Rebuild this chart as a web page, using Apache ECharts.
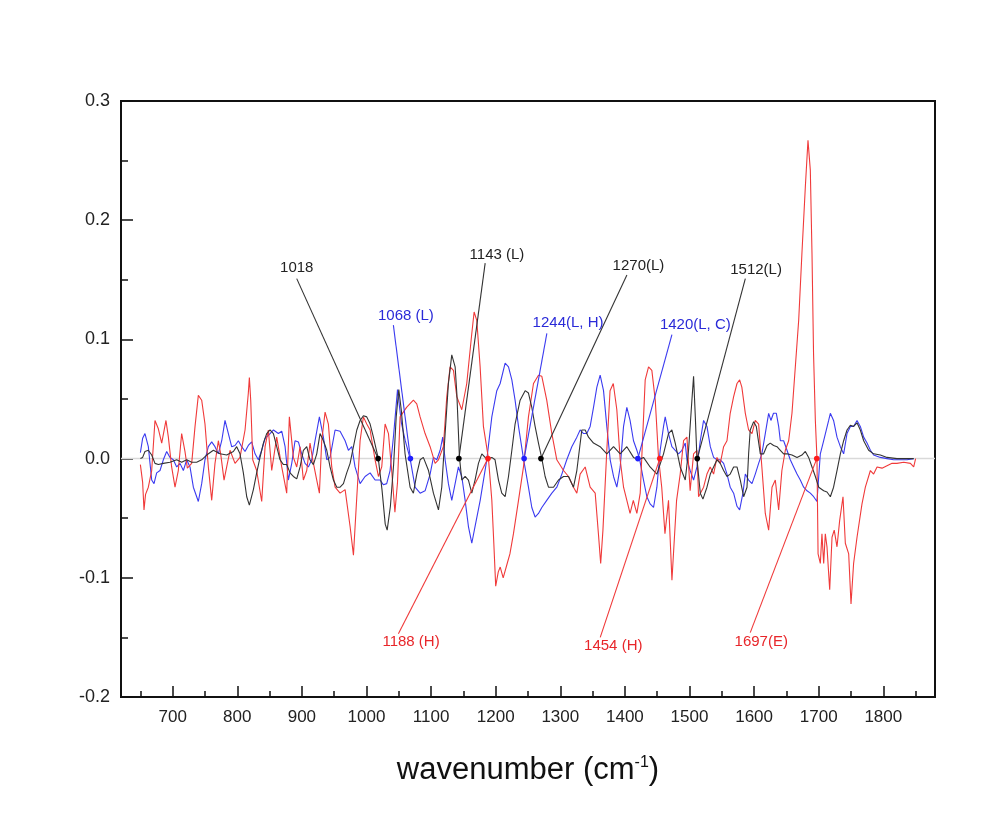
<!DOCTYPE html>
<html>
<head>
<meta charset="utf-8">
<script src="https://cdn.jsdelivr.net/npm/echarts@6/dist/echarts.min.js"></script>
<style>
html,body{margin:0;padding:0;background:#fff;}
#chart{width:992px;height:827px;}
</style>
</head>
<body>
<div id="chart"></div>
<script>
// wavenumber (cm-1), value pairs
const redSeries = [[650,-0.005],[653.5,-0.02],[655.6,-0.043],[658,-0.03],[662.3,-0.024],[667.5,-0.01],[672.6,0.032],[677.8,0.025],[683,0.013],[685.5,0.014],[689.6,0.032],[693.3,0.018],[698.4,-0.007],[703.6,-0.024],[708.7,-0.01],[713.9,0.021],[719,0.006],[722.7,-0.008],[729.4,-0.004],[734.6,0.027],[739.7,0.053],[744.9,0.049],[750,0.029],[755.2,-0.007],[760.4,-0.035],[765.5,-0.004],[770.7,0.015],[774.3,0.004],[779.5,-0.018],[783.6,-0.007],[788.8,0.007],[796.5,-0.004],[804.2,0.001],[812,0.024],[817.1,0.055],[818.7,0.068],[820.8,0.049],[823.9,-0.001],[830,-0.01],[837.8,-0.036],[843,0.01],[848.1,0.024],[853.3,-0.01],[861,0.018],[868.8,-0.007],[876.5,-0.029],[880.6,0.035],[886.8,0.001],[892,-0.007],[897.2,0.01],[902.3,-0.018],[907.5,-0.01],[912.6,0.013],[916.8,-0.001],[923,-0.018],[927.1,-0.029],[930.7,0.015],[935.9,0.039],[941,0.029],[946.2,-0.007],[951.4,-0.024],[959.1,-0.029],[966.9,-0.026],[974.6,-0.057],[979.8,-0.081],[985,-0.032],[990.1,0.015],[995.2,0.035],[1000.4,0.029],[1005.6,0.024],[1013.3,-0.001],[1018.5,-0.015],[1023.6,-0.007],[1028.8,0.029],[1034,0.021],[1039,-0.01],[1044,-0.045],[1048,-0.02],[1052,0.035],[1062,0.043],[1072.6,0.049],[1077.8,0.046],[1083,0.035],[1090.7,0.021],[1098.5,0.01],[1106.2,-0.004],[1111.4,-0.001],[1119,0.01],[1124.3,0.052],[1129.4,0.077],[1134.6,0.074],[1139.8,0.052],[1147.5,0.041],[1155.2,0.063],[1163,0.105],[1166.6,0.123],[1170.7,0.116],[1175.9,0.077],[1181,0.027],[1188.8,0],[1194,-0.035],[1197,-0.07],[1200,-0.107],[1204,-0.095],[1207,-0.091],[1211.6,-0.1],[1217.8,-0.088],[1222,-0.08],[1227.5,-0.063],[1235.3,-0.035],[1243,-0.007],[1250.7,0.035],[1258.5,0.063],[1266.2,0.07],[1271.4,0.069],[1279,0.049],[1286.9,0.021],[1294.6,-0.001],[1305,-0.01],[1312.7,-0.015],[1320.4,-0.024],[1325.6,-0.029],[1330.7,-0.013],[1338.5,-0.007],[1346.2,-0.024],[1354,-0.029],[1359,-0.063],[1362.5,-0.088],[1366,-0.06],[1372,0.007],[1377,0.057],[1382,0.063],[1387.5,0.041],[1392.7,-0.001],[1397.9,-0.024],[1403,-0.035],[1408,-0.046],[1413,-0.035],[1418.5,-0.046],[1423.7,-0.029],[1431.4,0.066],[1436.6,0.077],[1441.7,0.074],[1447,0.049],[1452,0.001],[1457,-0.024],[1462,-0.063],[1467.5,-0.035],[1472.8,-0.102],[1480,-0.035],[1485.6,-0.013],[1490.8,0.015],[1496,0.018],[1501,-0.027],[1506.3,0.004],[1511.5,0.007],[1514,-0.032],[1521.8,-0.024],[1527,-0.013],[1532,-0.007],[1537.3,-0.013],[1542.5,0.001],[1547.6,-0.004],[1552.8,0.01],[1558,0.015],[1563,0.038],[1568.3,0.052],[1573.5,0.063],[1577.6,0.066],[1581,0.06],[1586.4,0.038],[1591.5,0.024],[1596.7,0.021],[1601.8,0.032],[1607,0.029],[1612,-0.007],[1617.3,-0.046],[1622.5,-0.06],[1627.7,-0.024],[1632.8,-0.018],[1638,-0.043],[1643,-0.01],[1648.3,0.007],[1653.5,0.015],[1658.6,0.038],[1663.8,0.077],[1669,0.116],[1674,0.172],[1679.3,0.228],[1683.4,0.267],[1687,0.242],[1689.6,0.172],[1692,0.088],[1694.8,0.032],[1697.3,0],[1699,-0.08],[1702.5,-0.088],[1705,-0.063],[1707.7,-0.088],[1710.2,-0.063],[1712.8,-0.074],[1717,-0.11],[1720.6,-0.066],[1724,-0.06],[1728.3,-0.074],[1732.4,-0.052],[1737.6,-0.032],[1741.2,-0.071],[1746.4,-0.08],[1750,-0.122],[1754,-0.088],[1759.3,-0.066],[1767,-0.038],[1772.2,-0.024],[1780,-0.01],[1785,-0.013],[1790.3,-0.007],[1798,-0.008],[1805.7,-0.006],[1813.5,-0.004],[1821,-0.004],[1831.6,-0.003],[1842,-0.004],[1847,-0.007],[1850,0]];

const blueSeries = [[650,0.005],[653.5,0.017],[657.1,0.021],[662.3,0.01],[667.5,-0.018],[671.1,-0.021],[675.2,-0.012],[680.4,-0.01],[685.5,-0.001],[690.7,0.006],[695.8,0.001],[701,-0.001],[706.2,-0.007],[711.3,-0.004],[716.5,-0.01],[721.7,-0.001],[726.8,-0.007],[732,-0.024],[739.7,-0.036],[744.9,-0.021],[750,-0.001],[755.2,0.01],[760.4,0.014],[765.5,0.01],[770.7,0.004],[775.9,0.015],[781,0.032],[786.2,0.021],[791.3,0.01],[796.5,0.011],[801.7,0.015],[806.8,0.01],[812,0.006],[817.1,0.011],[822.3,0.014],[827.5,0.004],[832.6,-0.001],[837.8,0.007],[843,0.017],[849,0.02],[856,0.024],[863.6,0.021],[868.8,0.023],[874,0.01],[879.1,-0.018],[884.3,-0.004],[889.4,0.015],[894.6,0.014],[899.7,0.004],[904.9,-0.004],[910,-0.007],[915.2,-0.001],[920.4,0.015],[927.1,0.035],[933.3,0.018],[938.5,-0.001],[943.6,0.001],[951.4,0.024],[959.1,0.023],[966.9,0.015],[972,0.007],[977.2,0.01],[982.3,-0.007],[990.1,-0.021],[997.8,-0.015],[1005.6,-0.012],[1013.3,-0.018],[1021,-0.018],[1026.2,-0.022],[1031.3,-0.021],[1036.5,-0.01],[1042,0.02],[1048,0.058],[1054,0.03],[1060,0.015],[1067.5,0],[1075.2,-0.024],[1083,-0.029],[1090.7,-0.027],[1098.5,-0.013],[1103.6,0.001],[1108.8,-0.001],[1114,0.007],[1118,0.018],[1121.7,-0.001],[1126.8,-0.021],[1132,-0.035],[1137.2,-0.021],[1142.3,-0.007],[1147.5,-0.015],[1152.7,-0.035],[1157.8,-0.057],[1163,-0.071],[1168,-0.057],[1176,-0.035],[1186.2,-0.001],[1194,0.035],[1201.7,0.057],[1206.9,0.063],[1214.6,0.08],[1219.8,0.077],[1225,0.066],[1230,0.049],[1235.3,0.027],[1243,0],[1250.7,-0.024],[1255.9,-0.041],[1261,-0.049],[1266.2,-0.046],[1271.4,-0.041],[1279,-0.035],[1286.9,-0.029],[1294.6,-0.024],[1302.4,-0.013],[1310,-0.001],[1317.8,0.01],[1325.6,0.018],[1330.7,0.024],[1336,0.021],[1341,0.021],[1346.2,0.027],[1351.4,0.043],[1356.6,0.06],[1361.7,0.07],[1366.9,0.057],[1372,0.027],[1377.2,-0.001],[1382.4,-0.015],[1387.5,-0.024],[1392.7,-0.007],[1397.9,0.027],[1403,0.043],[1408,0.032],[1413.3,0.015],[1418.5,0.007],[1422.6,0],[1428.8,-0.018],[1434,-0.032],[1439,-0.038],[1444.3,-0.041],[1449.5,-0.024],[1454.6,0.007],[1459.8,0.027],[1462.4,0.035],[1467.5,0.021],[1472.7,0.01],[1477.9,0.007],[1483,0.004],[1488.2,0.007],[1493.4,0.013],[1496,-0.001],[1501,-0.01],[1506.3,-0.018],[1511.5,-0.007],[1516.7,0.015],[1521.8,0.032],[1527,0.027],[1532.2,0.01],[1537.3,0.001],[1542.5,-0.001],[1547.6,-0.001],[1552.8,-0.004],[1558,-0.013],[1563,-0.024],[1568.3,-0.029],[1573.5,-0.04],[1577.6,-0.043],[1582.7,-0.029],[1586.4,-0.013],[1591.5,-0.018],[1596.7,-0.021],[1601.8,-0.013],[1607,-0.004],[1612,0.004],[1617.3,0.021],[1622.5,0.038],[1626,0.032],[1630,0.038],[1634.4,0.038],[1638,0.027],[1640.6,0.015],[1645.7,0.015],[1650.9,0.007],[1656,-0.001],[1661.2,-0.007],[1666.4,-0.013],[1671.5,-0.018],[1676.7,-0.024],[1681.9,-0.027],[1687,-0.029],[1692.2,-0.032],[1697.3,-0.036],[1702.5,0.004],[1707.7,0.015],[1715.4,0.032],[1718,0.038],[1723,0.032],[1728.3,0.018],[1733.5,0.01],[1738.6,0.004],[1743.8,0.021],[1749,0.027],[1754,0.027],[1759.3,0.032],[1764.4,0.027],[1769.6,0.018],[1774.8,0.013],[1780,0.007],[1785,0.003],[1795.4,0.001],[1805.7,0],[1816,-0.001],[1826.4,-0.001],[1836.7,-0.001],[1847,0]];

const blackSeries = [[650,0],[653.5,0.001],[657.1,0.006],[662.3,0.007],[667.5,0.003],[672.6,-0.004],[677.8,-0.005],[685.5,-0.004],[695.8,-0.003],[706.2,-0.001],[713.9,-0.003],[721.7,-0.001],[729.4,-0.003],[737.1,-0.003],[744.9,-0.001],[752.6,0.003],[763,0.007],[773.3,0.004],[783.6,0.003],[793.9,0.006],[799.1,0.01],[804.2,0.004],[809.4,-0.012],[814.6,-0.032],[818.7,-0.039],[824.9,-0.026],[830,-0.012],[835.2,0.001],[840.4,0.013],[845.5,0.021],[850.7,0.024],[855.9,0.021],[861,0.01],[866.2,-0.001],[871.4,-0.005],[876.5,-0.005],[881.7,-0.012],[886.8,-0.015],[892,-0.017],[897.2,-0.007],[902.3,0.007],[907.5,0.01],[912.6,-0.001],[917.8,-0.005],[923,0.004],[928.1,0.021],[933.3,0.015],[938.5,0.007],[943.6,-0.007],[948.8,-0.018],[954,-0.024],[959.1,-0.024],[964.3,-0.021],[969.4,-0.012],[974.6,-0.004],[979.8,0.01],[985,0.024],[990.1,0.032],[995.2,0.036],[1000.4,0.035],[1005.6,0.029],[1010.7,0.018],[1018.3,0],[1024,-0.026],[1029,-0.055],[1032,-0.06],[1037,-0.04],[1042,-0.005],[1046,0.035],[1050,0.058],[1054,0.04],[1059.7,0.004],[1067.5,-0.024],[1072.6,-0.029],[1077.8,-0.013],[1083,-0.001],[1088,0.001],[1096,-0.01],[1103.6,-0.029],[1111.4,-0.043],[1116.5,-0.024],[1121.7,0.021],[1126.8,0.063],[1132,0.087],[1137.2,0.077],[1139.8,0.055],[1143.9,0.001],[1147.5,-0.018],[1152.7,-0.015],[1157.8,-0.018],[1163,-0.029],[1168,-0.018],[1173.3,-0.004],[1178.5,0.004],[1183.6,0.001],[1188.8,0],[1194,0.001],[1199,-0.001],[1204.3,-0.018],[1209.4,-0.029],[1214.6,-0.032],[1219.8,-0.015],[1225,0.007],[1230,0.029],[1237.8,0.049],[1245.6,0.057],[1250.7,0.055],[1255.9,0.043],[1261,0.027],[1266.2,0.013],[1271.4,0],[1276.5,-0.015],[1281.7,-0.024],[1289.5,-0.024],[1297.2,-0.018],[1305,-0.015],[1312.7,-0.015],[1320.4,-0.024],[1325.6,-0.01],[1333.3,0.024],[1338.5,0.024],[1343.7,0.018],[1351.4,0.013],[1361.7,0.01],[1372,0.004],[1382.4,0.01],[1392.7,0.004],[1403,0.01],[1413.3,0.001],[1421,-0.001],[1428.8,0.001],[1439,-0.007],[1449.5,-0.013],[1459.8,0.004],[1467.5,0.021],[1472.7,0.024],[1477.9,0.013],[1485.6,-0.007],[1493.4,-0.018],[1498.5,0.007],[1503.7,0.049],[1506.3,0.069],[1509,0.035],[1511.5,0],[1516.7,-0.029],[1520.8,-0.034],[1527,-0.024],[1532.2,-0.013],[1537.3,-0.007],[1542.5,-0.001],[1547.6,-0.004],[1552.8,-0.01],[1558,-0.015],[1563,-0.013],[1568.3,-0.007],[1573.5,-0.007],[1578.6,-0.018],[1583.8,-0.032],[1589,-0.024],[1591.5,0.004],[1594,0.024],[1599.3,0.031],[1603.4,0.027],[1609.6,0.004],[1614.7,0.004],[1620,0.011],[1625,0.013],[1630.2,0.011],[1635.4,0.01],[1640.6,0.007],[1645.7,0.004],[1651,0.004],[1658.6,0.003],[1666.4,0.001],[1674,0.003],[1679.3,0.006],[1684.4,0.001],[1689.6,-0.007],[1694.8,-0.015],[1700,-0.024],[1707.7,-0.027],[1712.8,-0.028],[1718,-0.032],[1723,-0.024],[1728.3,-0.01],[1733.5,0.004],[1738.6,0.015],[1743.8,0.024],[1749,0.028],[1754,0.027],[1759.3,0.03],[1764.4,0.024],[1769.6,0.015],[1777.3,0.007],[1785,0.004],[1795.4,0.003],[1805.7,0.001],[1821,0],[1847,0]];

// annotated peaks
const peakWn    = [1018, 1068, 1143, 1188, 1244, 1270, 1420, 1454, 1512, 1697];
const peakText  = ['1018', '1068 (L)', '1143 (L)', '1188 (H)', '1244(L, H)', '1270(L)', '1420(L, C)', '1454 (H)', '1512(L)', '1697(E)'];
const peakGroup = ['k', 'b', 'k', 'r', 'b', 'k', 'b', 'r', 'k', 'r'];
// label anchors and leader-line starts (in data units)
const labelWn   = [892, 1061, 1202, 1069, 1312, 1421, 1509, 1382, 1603, 1611];
const labelVal  = [0.160, 0.120, 0.171, -0.154, 0.114, 0.162, 0.112, -0.157, 0.158, -0.154];
const leadWn    = [892, 1041.6, 1183.7, 1049.4, 1279.2, 1403.1, 1472.8, 1361.8, 1586.4, 1594];
const leadVal   = [0.151, 0.112, 0.164, -0.147, 0.105, 0.154, 0.104, -0.150, 0.151, -0.146];

const yTicks = [-0.2, -0.1, 0.0, 0.1, 0.2, 0.3];

const lineColor = { r: '#f03a3a', b: '#3b3bf0', k: '#333333' };
const textColor = { r: '#e8262a', b: '#2a2ad8', k: '#222222' };
const FONT = 'Liberation Sans, Arial, sans-serif';

const annData = peakWn.map((w, i) => [w, 0, leadWn[i], leadVal[i], labelWn[i], labelVal[i], i]);

const chart = echarts.init(document.getElementById('chart'), null, { renderer: 'canvas' });

chart.setOption({
  backgroundColor: '#ffffff',
  animation: false,
  grid: {
    left: 121, right: 57, top: 101, bottom: 130,
    show: true, borderColor: '#111', borderWidth: 2, backgroundColor: 'transparent'
  },
  xAxis: [
    {
      type: 'value', min: 620, max: 1880, minInterval: 100, maxInterval: 100,
      position: 'bottom',
      name: 'wavenumber (cm{sup|-1})',
      nameLocation: 'middle', nameGap: 58,
      nameTextStyle: {
        fontFamily: FONT, fontSize: 31, color: '#111',
        rich: { sup: { fontFamily: FONT, fontSize: 16, color: '#111', verticalAlign: 'top', padding: [0, 0, 14, 0] } }
      },
      axisLine: { show: true, onZero: false, lineStyle: { color: '#111', width: 2 } },
      axisTick: { show: true, inside: true, length: 11, lineStyle: { color: '#111', width: 1.5 } },
      axisLabel: {
        fontFamily: FONT, fontSize: 17, color: '#222', margin: 12,
        formatter: v => (Math.round(v) % 100 === 0 ? String(Math.round(v)) : '')
      },
      splitLine: { show: false }
    },
    {
      type: 'value', min: 620, max: 1880, minInterval: 50, maxInterval: 50,
      position: 'bottom', offset: 0,
      axisLine: { show: false, onZero: false },
      axisTick: { show: true, inside: true, length: 6, lineStyle: { color: '#111', width: 1.5 } },
      axisLabel: { show: false },
      splitLine: { show: false }
    }
  ],
  yAxis: {
    type: 'value', min: yTicks[0], max: yTicks[yTicks.length - 1], interval: 0.1,
    axisLine: { show: true, onZero: false, lineStyle: { color: '#111', width: 2 } },
    axisTick: { show: true, inside: true, length: 12, lineStyle: { color: '#111', width: 1.5 } },
    minorTick: { show: true, splitNumber: 2, length: 7, lineStyle: { color: '#111', width: 1.5 } },
    axisLabel: {
      fontFamily: FONT, fontSize: 18, color: '#222', margin: 11,
      formatter: v => v.toFixed(1)
    },
    splitLine: { show: false }
  },
  series: [
    {
      type: 'line', name: 'blue', data: blueSeries, xAxisIndex: 0,
      showSymbol: false, symbol: 'none',
      lineStyle: { color: lineColor.b, width: 1.1 }, z: 2,
      markLine: {
        silent: true, symbol: 'none', label: { show: false },
        lineStyle: { color: '#d9d9d9', width: 1.3, type: 'solid' },
        data: [{ yAxis: 0 }], z: 1
      }
    },
    {
      type: 'line', name: 'red', data: redSeries, xAxisIndex: 0,
      showSymbol: false, symbol: 'none',
      lineStyle: { color: lineColor.r, width: 1.1 }, z: 3
    },
    {
      type: 'line', name: 'black', data: blackSeries, xAxisIndex: 0,
      showSymbol: false, symbol: 'none',
      lineStyle: { color: lineColor.k, width: 1.1 }, z: 4
    },
    {
      type: 'custom', name: 'annotations', xAxisIndex: 0, yAxisIndex: 0,
      coordinateSystem: 'cartesian2d', z: 10, clip: false,
      data: annData,
      encode: { x: 0, y: 1 },
      renderItem: function (params, api) {
        const idx = api.value(6);
        const g = peakGroup[idx];
        const p = api.coord([api.value(0), api.value(1)]);
        const s = api.coord([api.value(2), api.value(3)]);
        const t = api.coord([api.value(4), api.value(5)]);
        return {
          type: 'group',
          children: [
            { type: 'line', shape: { x1: s[0], y1: s[1], x2: p[0], y2: p[1] },
              style: { stroke: lineColor[g], lineWidth: 1.1 } },
            { type: 'circle', shape: { cx: p[0], cy: p[1], r: 2.8 },
              style: { fill: g === 'k' ? '#000' : (g === 'b' ? '#1f1fff' : '#ff1a1a') } },
            { type: 'text', x: t[0], y: t[1],
              style: { text: peakText[idx], fill: textColor[g], font: '15px ' + FONT,
                       align: 'center', verticalAlign: 'middle' } }
          ]
        };
      }
    }
  ]
});
</script>
</body>
</html>
